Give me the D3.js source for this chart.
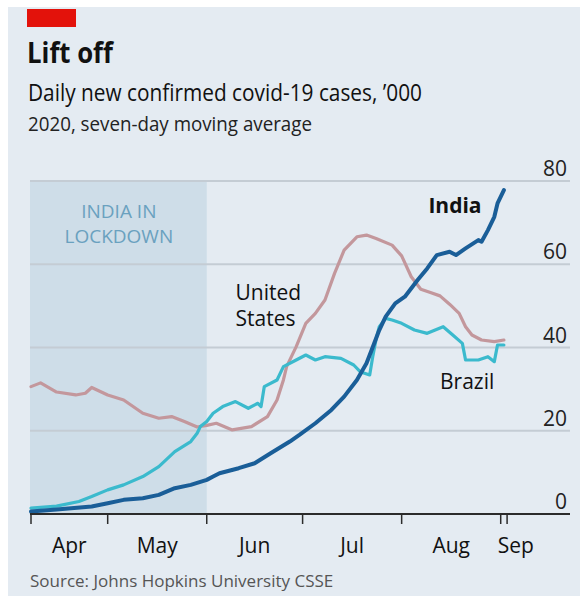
<!DOCTYPE html>
<html lang="en">
<head>
<meta charset="utf-8" />
<title>Lift off</title>
<script src="https://cdn.jsdelivr.net/npm/d3@7"></script>
<style>
    html, body { margin: 0; padding: 0; background: #fff; }
    svg { display: block; font-family: "Open Sans", "Noto Sans", sans-serif; }
</style>
<script>
    // daily new cases, '000, seven-day average
    const india = [
        ["2020-04-07", 0.6], ["2020-04-15", 1.1], ["2020-04-26", 1.8], ["2020-05-01", 2.6],
        ["2020-05-06", 3.4], ["2020-05-12", 3.8], ["2020-05-17", 4.6], ["2020-05-22", 6.2],
        ["2020-05-27", 7.0], ["2020-06-01", 8.2], ["2020-06-03", 9.0], ["2020-06-05", 9.8],
        ["2020-06-11", 11.0], ["2020-06-16", 12.2], ["2020-06-21", 14.6], ["2020-06-27", 17.4],
        ["2020-06-30", 19.0], ["2020-07-05", 21.8], ["2020-07-10", 25.0], ["2020-07-14", 28.2],
        ["2020-07-18", 32.2], ["2020-07-21", 36.2], ["2020-07-23", 40.2], ["2020-07-25", 44.2],
        ["2020-07-27", 47.4], ["2020-07-30", 50.6], ["2020-08-02", 52.2], ["2020-08-06", 56.2],
        ["2020-08-09", 59.0], ["2020-08-12", 62.2], ["2020-08-16", 63.0], ["2020-08-18", 62.2],
        ["2020-08-21", 63.8], ["2020-08-25", 65.8], ["2020-08-26", 65.4], ["2020-08-28", 68.2],
        ["2020-08-30", 71.4], ["2020-08-31", 74.6], ["2020-09-02", 77.8]
    ]
    const unitedStates = [
        ["2020-04-07", 30.6], ["2020-04-10", 31.5], ["2020-04-15", 29.3], ["2020-04-21", 28.6],
        ["2020-04-24", 29.0], ["2020-04-26", 30.4], ["2020-05-01", 28.6], ["2020-05-06", 27.4],
        ["2020-05-12", 24.2], ["2020-05-17", 23.0], ["2020-05-21", 23.4], ["2020-05-25", 22.2],
        ["2020-05-29", 20.9], ["2020-06-01", 21.3], ["2020-06-04", 21.8], ["2020-06-09", 20.2],
        ["2020-06-15", 21.0], ["2020-06-20", 23.4], ["2020-06-23", 27.4], ["2020-06-25", 32.2],
        ["2020-06-26", 35.4], ["2020-06-29", 40.2], ["2020-07-02", 45.8], ["2020-07-05", 48.2],
        ["2020-07-08", 51.4], ["2020-07-11", 57.8], ["2020-07-14", 63.4], ["2020-07-18", 66.6],
        ["2020-07-21", 67.0], ["2020-07-24", 66.2], ["2020-07-29", 64.6], ["2020-08-01", 62.0],
        ["2020-08-04", 57.0], ["2020-08-07", 54.0], ["2020-08-10", 53.2], ["2020-08-13", 52.4],
        ["2020-08-16", 50.4], ["2020-08-19", 48.2], ["2020-08-21", 45.0], ["2020-08-23", 43.0],
        ["2020-08-26", 41.8], ["2020-08-30", 41.4], ["2020-09-02", 41.8]
    ]
    const brazil = [
        ["2020-04-07", 1.4], ["2020-04-15", 1.9], ["2020-04-22", 3.0], ["2020-04-26", 4.2],
        ["2020-05-01", 5.8], ["2020-05-06", 7.0], ["2020-05-12", 9.0], ["2020-05-17", 11.4],
        ["2020-05-22", 15.0], ["2020-05-27", 17.4], ["2020-05-29", 19.4], ["2020-05-30", 21.0],
        ["2020-06-01", 22.2], ["2020-06-03", 24.2], ["2020-06-06", 25.8], ["2020-06-10", 27.0],
        ["2020-06-14", 25.4], ["2020-06-17", 26.6], ["2020-06-18", 25.8], ["2020-06-19", 30.6],
        ["2020-06-23", 32.2], ["2020-06-25", 35.4], ["2020-06-29", 37.0], ["2020-07-02", 38.2],
        ["2020-07-05", 37.0], ["2020-07-08", 37.8], ["2020-07-13", 37.4], ["2020-07-17", 35.8],
        ["2020-07-19", 34.2], ["2020-07-22", 33.4], ["2020-07-23", 38.0], ["2020-07-24", 42.0],
        ["2020-07-25", 45.0], ["2020-07-27", 47.0], ["2020-07-29", 46.6], ["2020-08-01", 45.8],
        ["2020-08-05", 44.2], ["2020-08-09", 43.4], ["2020-08-14", 45.0], ["2020-08-17", 43.0],
        ["2020-08-20", 41.0], ["2020-08-21", 37.0], ["2020-08-25", 37.0], ["2020-08-28", 37.8],
        ["2020-08-30", 36.6], ["2020-08-31", 40.6], ["2020-09-02", 40.6]
    ]
    const yTicks = [0, 20, 40, 60, 80]
    const xTicks = ["2020-04-07", "2020-05-01", "2020-06-01", "2020-07-01", "2020-08-01", "2020-09-01", "2020-09-03"]
    const monthLabels = ["Apr", "May", "Jun", "Jul", "Aug", "Sep"]
    const lockdown = ["2020-04-07", "2020-06-01"]

    const parse = d3.timeParse("%Y-%m-%d")

    window.onload = () => {
        const W = 580, H = 596
        const svg = d3.select("#chart").attr("width", W).attr("height", H)

        // panel
        svg.append("rect").attr("x", 8).attr("y", 7).attr("width", W - 8).attr("height", H - 7)
            .style("fill", "#e4ebf2")
        svg.append("rect").attr("x", 27).attr("y", 9).attr("width", 49).attr("height", 18)
            .style("fill", "#e3120b")

        // headline is set tighter, like the condensed house font
        svg.append("text").attr("x", 27).attr("y", 63).text("Lift off")
            .attr("textLength", 86).attr("lengthAdjust", "spacingAndGlyphs")
            .style("font-weight", 700).style("font-size", "29px").style("fill", "#111")
        svg.append("text").attr("x", 28).attr("y", 101).text("Daily new confirmed covid-19 cases, \u2019000")
            .attr("textLength", 394).attr("lengthAdjust", "spacingAndGlyphs")
            .style("font-size", "23px").style("fill", "#111")
        svg.append("text").attr("x", 28).attr("y", 131).text("2020, seven-day moving average")
            .attr("textLength", 284).attr("lengthAdjust", "spacingAndGlyphs")
            .style("font-size", "20px").style("fill", "#222")
        svg.append("text").attr("x", 30).attr("y", 587).text("Source: Johns Hopkins University CSSE")
            .style("font-size", "17px").style("fill", "#555")

        const x = d3.scaleTime()
            .domain([parse("2020-04-07"), parse("2020-09-23")])
            .range([31, 571])
        const y = d3.scaleLinear().domain([0, 80]).range([514, 181])

        // lockdown shading
        svg.append("rect")
            .attr("x", x(parse(lockdown[0])) - 1)
            .attr("y", y(80))
            .attr("width", x(parse(lockdown[1])) - x(parse(lockdown[0])) + 1)
            .attr("height", y(0) - y(80))
            .style("fill", "#cedde8")

        // gridlines + right labels
        const grid = svg.append("g")
        grid.selectAll("line").data(yTicks.filter(d => d > 0)).enter().append("line")
            .attr("x1", 30).attr("x2", 570)
            .attr("y1", d => y(d)).attr("y2", d => y(d))
            .style("stroke", "#c4ccd4").style("stroke-width", 2)
        grid.selectAll("text").data(yTicks).enter().append("text")
            .attr("x", 567).attr("y", d => y(d) - 5)
            .attr("text-anchor", "end")
            .text(d => d)
            .style("font-size", "21px").style("fill", "#222")

        const lockX = (x(parse(lockdown[0])) + x(parse(lockdown[1]))) / 2
        svg.append("text").attr("x", lockX).attr("y", y(71.1)).attr("text-anchor", "middle")
            .text("INDIA IN").style("font-size", "19px").style("fill", "#6aa1bf")
        svg.append("text").attr("x", lockX).attr("y", y(65.1)).attr("text-anchor", "middle")
            .text("LOCKDOWN").style("font-size", "19px").style("fill", "#6aa1bf")

        // lines
        const line = d3.line()
            .x(d => x(parse(d[0])))
            .y(d => y(d[1]))
        const series = [
            { data: unitedStates, color: "#c3979c", width: 3.2 },
            { data: brazil, color: "#3bbacd", width: 3.2 },
            { data: india, color: "#1a5e98", width: 4 },
        ]
        svg.selectAll("path.series").data(series).enter().append("path")
            .attr("class", "series")
            .attr("d", d => line(d.data))
            .style("fill", "none")
            .style("stroke", d => d.color)
            .style("stroke-width", d => d.width)
            .style("stroke-linejoin", "round")
            .style("stroke-linecap", "round")

        // x axis
        svg.append("line").attr("x1", 30).attr("x2", 570).attr("y1", y(0)).attr("y2", y(0))
            .style("stroke", "#2b2b2b").style("stroke-width", 2)
        svg.selectAll("line.xtick").data(xTicks).enter().append("line")
            .attr("class", "xtick")
            .attr("x1", d => x(parse(d))).attr("x2", d => x(parse(d)))
            .attr("y1", y(0)).attr("y2", y(0) + 10)
            .style("stroke", "#2b2b2b").style("stroke-width", 1.5)
        svg.selectAll("text.month").data(monthLabels).enter().append("text")
            .attr("class", "month")
            .attr("x", (d, i) => i < 5
                ? (x(parse(xTicks[i])) + x(parse(xTicks[i + 1]))) / 2
                : x(parse(xTicks[i])) - 3)
            .attr("y", 553)
            .attr("text-anchor", (d, i) => i < 5 ? "middle" : "start")
            .text(d => d)
            .style("font-size", "21px").style("fill", "#111")

        // series labels
        svg.append("text").attr("x", x(parse("2020-08-26"))).attr("y", y(72.3))
            .attr("text-anchor", "end").text("India")
            .style("font-weight", 700).style("font-size", "21px").style("fill", "#111")
        svg.append("text").attr("x", x(parse("2020-06-10"))).attr("y", y(51.4))
            .text("United").style("font-size", "21px").style("fill", "#111")
        svg.append("text").attr("x", x(parse("2020-06-10"))).attr("y", y(45.2))
            .text("States").style("font-size", "21px").style("fill", "#111")
        svg.append("text").attr("x", x(parse("2020-08-13"))).attr("y", y(30))
            .text("Brazil").style("font-size", "21px").style("fill", "#111")
    }
</script>
</head>
<body>
    <svg id="chart"></svg>
</body>
</html>
